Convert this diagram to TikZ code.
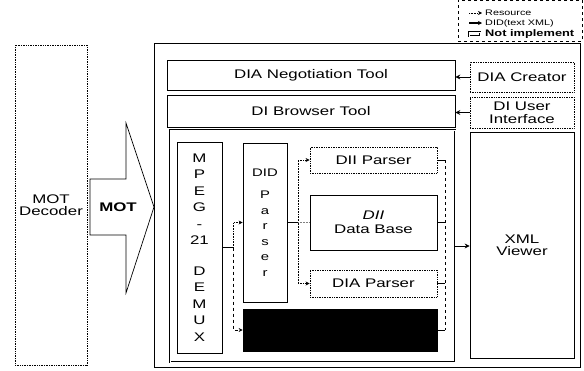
\documentclass[tikz,border=0pt]{standalone}
\usepackage{fontspec}
\setmainfont[FakeStretch=1.35]{Liberation Sans}
\usetikzlibrary{arrows.meta,calc}
\newcommand\dfont{\fontsize{12.5}{14}\selectfont}
\tikzset{
  box/.style    = {draw, line width=.7pt, inner sep=0pt, align=center, font=\dfont},
  nbox/.style   = {box, densely dotted, line width=.8pt},
  didflow/.style = {-{Stealth[length=4pt,width=4pt]}, densely dotted, line width=.6pt},
  resflow/.style = {-{Stealth[length=4pt,width=4pt]}, dashed, line width=.6pt},
  feed/.style   = {{Stealth[length=5pt,width=5pt]}-, line width=1pt},
}

\begin{document}
\begin{tikzpicture}[x=1pt,y=-1pt]
  \useasboundingbox (0,0) rectangle (584,370);

  % legend
  \node[draw, dashed, line width=.5pt, minimum width=124pt, minimum height=41pt] (leg) at (520,20.5) {};
  \node[anchor=west, font=\fontsize{8}{9}\selectfont, inner sep=0pt] (lres) at (485,13) {Resource};
  \node[anchor=west, font=\fontsize{8}{9}\selectfont, inner sep=0pt] (ldid) at (485,23) {DID(text XML)};
  \node[anchor=west, font=\fontsize{9.5}{10}\selectfont\bfseries, inner sep=0pt] (lnot) at (485,34) {Not implement};
  \draw[didflow] ($(lres.west)+(-16,0)$) -- ($(lres.west)+(-3,0)$);
  \draw[-{Stealth[length=4pt,width=4pt]}, line width=1.1pt] ($(ldid.west)+(-16,0)$) -- ($(ldid.west)+(-3,0)$);
  \draw[double, line width=.5pt] ($(lnot.west)+(-16,-2)$) rectangle ($(lnot.west)+(-5,2)$);

  % left side
  \node[nbox, minimum width=72pt, minimum height=320pt] (dec) at (51,205) {MOT\\[-2pt]Decoder};
  \draw[line width=.7pt] (90,179) -- (126,179) -- (126,123) -- (154,207)
    -- (126,293) -- (126,235) -- (90,235) -- cycle;
  \node[font=\dfont\bfseries] (mot) at (118,207) {MOT};

  % main block
  \node[box, line width=1pt, minimum width=426pt, minimum height=324pt] (outer) at (367,205) {};
  \node[box, minimum width=288pt, minimum height=30pt] (neg) at (311,75) {DIA Negotiation Tool};
  \node[box, minimum width=288pt, minimum height=32pt] (brw) at (311,111) {DI Browser Tool};
  \node[box, double, minimum width=285pt, minimum height=232pt] (low) at (312.5,246) {};

  \node[box, minimum width=45pt, minimum height=211pt, font=\fontsize{12.5}{16.5}\selectfont] (demux) at (199.5,247.5)
    {M\\P\\E\\G\\-\\21\\[14pt]D\\E\\M\\U\\X};
  \node[box, minimum width=44pt, minimum height=159pt, font=\fontsize{11}{15.5}\selectfont] (did) at (265,222.5)
    {DID\\[7pt]P\\a\\r\\s\\e\\r};
  \node[nbox, minimum width=127pt, minimum height=26pt] (diip) at (373.5,160) {DII Parser};
  \node[box, minimum width=127pt, minimum height=55pt] (db) at (373.5,222.5) {\itshape DII\\Data Base};
  \node[nbox, minimum width=127pt, minimum height=27pt] (diap) at (373.5,283.5) {DIA Parser};
  \node[box, fill=black, minimum width=194pt, minimum height=42pt] (blk) at (340,330) {};

  % right column
  \node[nbox, minimum width=104pt, minimum height=30pt] (crt) at (522,77) {DIA Creator};
  \node[nbox, minimum width=104pt, minimum height=31pt] (ui) at (522,112.5) {DI User\\[-1pt]Interface};
  \node[box, minimum width=104pt, minimum height=226pt] (xml) at (522,245) {XML\\[-2pt]Viewer};

  % connectors
  \draw[feed] (crt.west -| neg.east) -- (crt.west);
  \draw[feed] (ui.west -| brw.east) -- (ui.west);
  \draw[-{Stealth[length=5pt,width=5pt]}, line width=.8pt] (low.east) -- (low.east -| xml.west);

  \draw[line width=.6pt] (demux.east) -- ++(11,0) coordinate (j1);
  \draw[didflow] (j1) |- (did.west);
  \draw[resflow] (j1) |- (blk.west);

  \draw[line width=.6pt] (did.east) -- ++(11,0) coordinate (j2);
  \draw[didflow] (j2) |- (diip.west);
  \draw[didflow] (j2) |- (diap.west);
  \draw[densely dotted, gray, line width=.5pt] (j2) -- (db.west);

  \draw[line width=.6pt] (diip.east) -- ++(8,0) coordinate (j3);
  \draw[dashed, line width=.6pt] (j3) -- (j3 |- blk.east);
  \draw[line width=.6pt] (db.east) -- (db.east -| j3);
  \draw[line width=.6pt] (diap.east) -- (diap.east -| j3);
  \draw[line width=.6pt] (blk.east) -- (blk.east -| j3);
\end{tikzpicture}
\end{document}
